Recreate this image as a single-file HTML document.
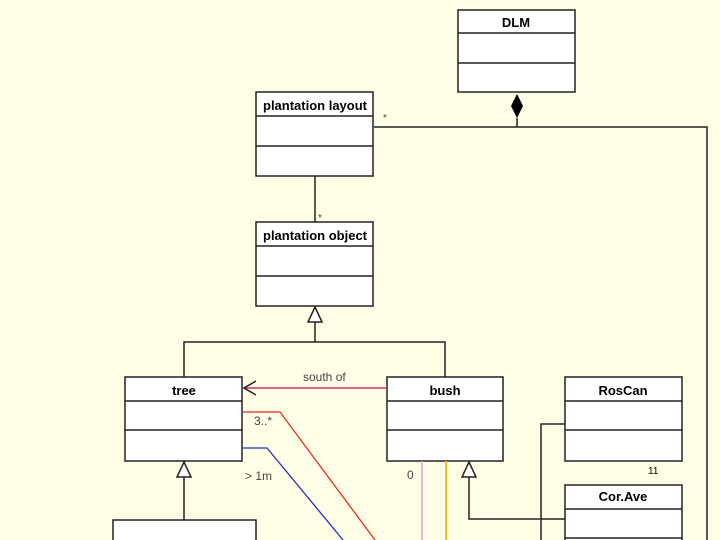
<!DOCTYPE html>
<html><head><style>
body{margin:0;background:#fefee6;}
svg{display:block}
text{font-family:"Liberation Sans",sans-serif;}
</style></head><body>
<svg width="720" height="540" viewBox="0 0 720 540" xmlns="http://www.w3.org/2000/svg">
<rect width="720" height="540" fill="#fefee6"/>
<g stroke="#222" stroke-width="1.5" fill="#fff">
<rect x="458" y="10" width="117" height="82"/><line x1="458" y1="33" x2="575" y2="33"/><line x1="458" y1="63" x2="575" y2="63"/>
<rect x="256" y="92" width="117" height="84"/><line x1="256" y1="116" x2="373" y2="116"/><line x1="256" y1="146" x2="373" y2="146"/>
<rect x="256" y="222" width="117" height="84"/><line x1="256" y1="246" x2="373" y2="246"/><line x1="256" y1="276" x2="373" y2="276"/>
<rect x="125" y="377" width="117" height="84"/><line x1="125" y1="401" x2="242" y2="401"/><line x1="125" y1="430" x2="242" y2="430"/>
<rect x="387" y="377" width="116" height="84"/><line x1="387" y1="401" x2="503" y2="401"/><line x1="387" y1="430" x2="503" y2="430"/>
<rect x="565" y="377" width="117" height="84"/><line x1="565" y1="401" x2="682" y2="401"/><line x1="565" y1="430" x2="682" y2="430"/>
<rect x="565" y="485" width="117" height="60"/><line x1="565" y1="509" x2="682" y2="509"/><line x1="565" y1="538" x2="682" y2="538"/>
<rect x="113" y="520" width="143" height="30"/>
</g>
<g stroke="#222" stroke-width="1.5" fill="none">
<polyline points="374,127 707,127 707,540"/>
<line x1="517" y1="118" x2="517" y2="127"/>
<line x1="315" y1="176" x2="315" y2="222"/>
<polyline points="184,377 184,342 445,342 445,377"/>
<line x1="315" y1="322" x2="315" y2="342"/>
<line x1="184" y1="477" x2="184" y2="520"/>
<polyline points="469,477 469,519 565,519"/>
<polyline points="565,424 541,424 541,540"/>
</g>
<polygon points="517,94 523,106 517,118 511,106" fill="#000"/>
<g fill="#fff" stroke="#222" stroke-width="1.5">
<polygon points="315,307 322,322 308,322"/>
<polygon points="184,462 191,477 177,477"/>
<polygon points="469,462 476,477 462,477"/>
</g>
<line x1="244" y1="388" x2="387" y2="388" stroke="#d0306a" stroke-width="1.5"/>
<polyline points="256,381 244,388 256,395" fill="none" stroke="#222" stroke-width="1.5"/>
<polyline points="243,412 280,412 375,540" fill="none" stroke="#e03020" stroke-width="1.3"/>
<polyline points="243,448 267,448 343,540" fill="none" stroke="#2030c0" stroke-width="1.3"/>
<line x1="422" y1="461" x2="422" y2="540" stroke="#d8a8c8" stroke-width="1.5"/>
<line x1="446" y1="461" x2="446" y2="540" stroke="#f0c020" stroke-width="2"/>
<g font-size="13" font-weight="bold" text-anchor="middle" fill="#000">
<text x="516" y="27">DLM</text>
<text x="315" y="110">plantation layout</text>
<text x="315" y="240">plantation object</text>
<text x="184" y="395">tree</text>
<text x="445" y="395">bush</text>
<text x="623" y="395">RosCan</text>
<text x="623" y="501">Cor.Ave</text>
</g>
<g font-size="12" fill="#444">
<text x="303" y="381">south of</text>
<text x="254" y="425">3..*</text>
<text x="245" y="480">&gt; 1m</text>
<text x="407" y="479">0</text>
<text x="383" y="121" font-size="10">*</text>
<text x="318" y="221" font-size="10">*</text>
</g>
<text x="648" y="474" font-size="10" fill="#000">11</text>
</svg>
</body></html>
